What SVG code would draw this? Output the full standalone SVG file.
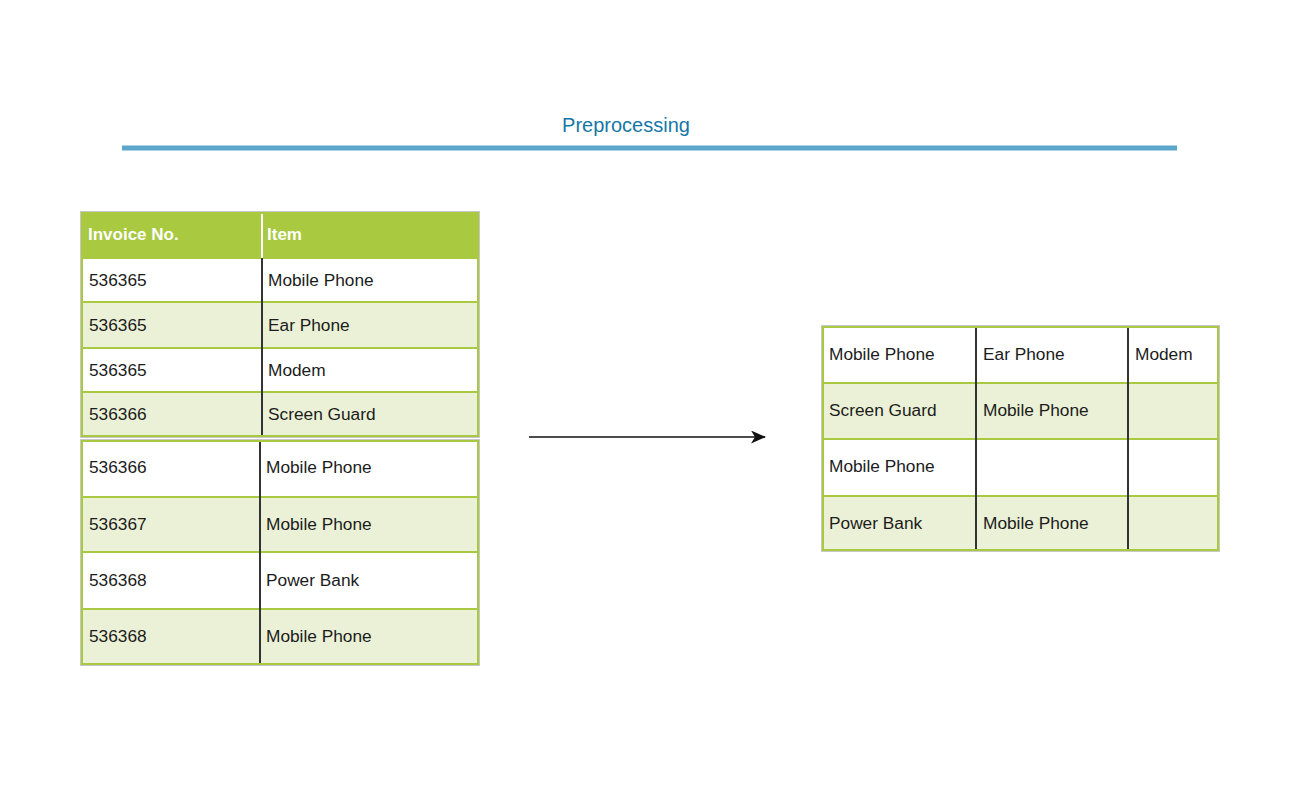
<svg xmlns="http://www.w3.org/2000/svg" width="1300" height="800" viewBox="0 0 1300 800">
<defs>
<style>
.t{font-family:"Liberation Sans",Arial,sans-serif;font-size:17.3px;fill:#1c1c1c}
.h{font-family:"Liberation Sans",Arial,sans-serif;font-size:17px;font-weight:bold;fill:#ffffff}
.w{fill:#ffffff}
.g{fill:#ebf1d6}
.hl{stroke:#a8c940;stroke-width:2}
.vl{stroke:#333333;stroke-width:2}
.ob{fill:none;stroke:#a8c940;stroke-width:2}
.og{fill:none;stroke:#c8c8c8;stroke-width:1}
</style>
<marker id="ah" viewBox="0 0 15 13" refX="14" refY="6.5" markerWidth="15" markerHeight="13" markerUnits="userSpaceOnUse" orient="auto">
<path d="M0,0 L15,6.5 L0,13 L4,6.5 Z" fill="#111111"/>
</marker>
</defs>
<rect width="1300" height="800" fill="#ffffff"/>
<g id="title">
<text x="626" y="132" text-anchor="middle" font-family="Liberation Sans,Arial,sans-serif" font-size="20" fill="#1677a6">Preprocessing</text>
<line x1="122" y1="148" x2="1177" y2="148" stroke="#5aa7cb" stroke-width="5"/>
</g>
<g id="table-top">
<rect x="81" y="212" width="398" height="46" fill="#a8c940"/>
<rect class="w" x="81" y="258" width="398" height="44"/>
<rect class="g" x="81" y="302" width="398" height="46"/>
<rect class="w" x="81" y="348" width="398" height="44"/>
<rect class="g" x="81" y="392" width="398" height="45"/>
<line class="hl" x1="81" y1="258" x2="479" y2="258"/>
<line class="hl" x1="81" y1="302" x2="479" y2="302"/>
<line class="hl" x1="81" y1="348" x2="479" y2="348"/>
<line class="hl" x1="81" y1="392" x2="479" y2="392"/>
<line x1="262" y1="213" x2="262" y2="258" stroke="#ffffff" stroke-width="2"/>
<line class="vl" x1="262" y1="258" x2="262" y2="437"/>
<rect class="og" x="80.5" y="211.5" width="399" height="226"/>
<rect class="ob" x="82" y="213" width="396" height="223"/>
<text class="h" x="88" y="240">Invoice No.</text>
<text class="h" x="267" y="240">Item</text>
<text class="t" x="89" y="286">536365</text><text class="t" x="268" y="286">Mobile Phone</text>
<text class="t" x="89" y="331">536365</text><text class="t" x="268" y="331">Ear Phone</text>
<text class="t" x="89" y="376">536365</text><text class="t" x="268" y="376">Modem</text>
<text class="t" x="89" y="420">536366</text><text class="t" x="268" y="420">Screen Guard</text>
</g>
<g id="table-bottom">
<rect class="w" x="81" y="440" width="398" height="57"/>
<rect class="g" x="81" y="497" width="398" height="55"/>
<rect class="w" x="81" y="552" width="398" height="57"/>
<rect class="g" x="81" y="609" width="398" height="56"/>
<line class="hl" x1="81" y1="497" x2="479" y2="497"/>
<line class="hl" x1="81" y1="552" x2="479" y2="552"/>
<line class="hl" x1="81" y1="609" x2="479" y2="609"/>
<line class="vl" x1="260" y1="440" x2="260" y2="665"/>
<rect class="og" x="80.5" y="439.5" width="399" height="226"/>
<rect class="ob" x="82" y="441" width="396" height="223"/>
<text class="t" x="89" y="473">536366</text><text class="t" x="266" y="473">Mobile Phone</text>
<text class="t" x="89" y="530">536367</text><text class="t" x="266" y="530">Mobile Phone</text>
<text class="t" x="89" y="586">536368</text><text class="t" x="266" y="586">Power Bank</text>
<text class="t" x="89" y="642">536368</text><text class="t" x="266" y="642">Mobile Phone</text>
</g>
<g id="connectors">
<line x1="529" y1="437" x2="765" y2="437" stroke="#111111" stroke-width="1.5" marker-end="url(#ah)"/>
</g>
<g id="table-right">
<rect class="w" x="822" y="326" width="397" height="57"/>
<rect class="g" x="822" y="383" width="397" height="56"/>
<rect class="w" x="822" y="439" width="397" height="57"/>
<rect class="g" x="822" y="496" width="397" height="55"/>
<line class="hl" x1="822" y1="383" x2="1219" y2="383"/>
<line class="hl" x1="822" y1="439" x2="1219" y2="439"/>
<line class="hl" x1="822" y1="496" x2="1219" y2="496"/>
<line class="vl" x1="976" y1="326" x2="976" y2="551"/>
<line class="vl" x1="1128" y1="326" x2="1128" y2="551"/>
<rect class="og" x="821.5" y="325.5" width="398" height="226"/>
<rect class="ob" x="823" y="327" width="395" height="223"/>
<text class="t" x="829" y="360">Mobile Phone</text><text class="t" x="983" y="360">Ear Phone</text><text class="t" x="1135" y="360">Modem</text>
<text class="t" x="829" y="416">Screen Guard</text><text class="t" x="983" y="416">Mobile Phone</text>
<text class="t" x="829" y="472">Mobile Phone</text>
<text class="t" x="829" y="529">Power Bank</text><text class="t" x="983" y="529">Mobile Phone</text>
</g>
</svg>
